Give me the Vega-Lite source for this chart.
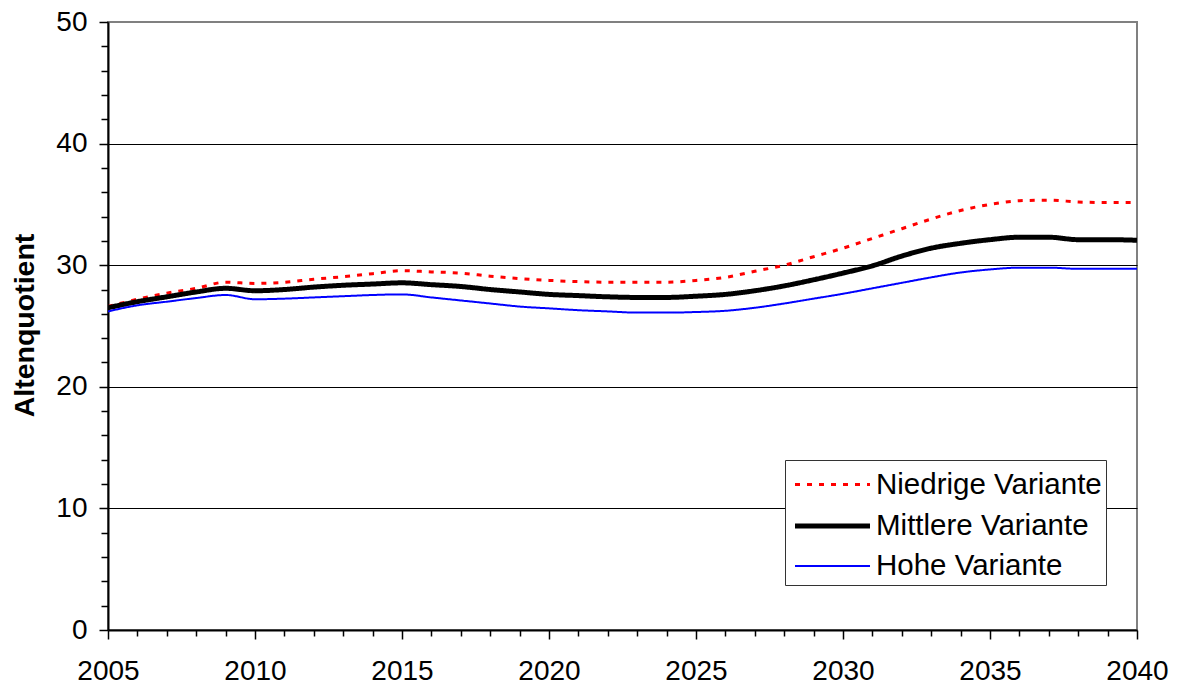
{
  "$schema": "https://vega.github.io/schema/vega-lite/v6.json",
  "autosize": "none",
  "width": 1029,
  "height": 608,
  "padding": {"left": 108, "top": 22, "right": 42, "bottom": 59},
  "background": "white",
  "config": {
    "font": "Liberation Sans",
    "view": {"stroke": "#808080", "strokeWidth": 2}
  },
  "data": {"values": [
    {"year":2005,"v":"Niedrige Variante","q":26.6},{"year":2006,"v":"Niedrige Variante","q":27.2},{"year":2007,"v":"Niedrige Variante","q":27.7},{"year":2008,"v":"Niedrige Variante","q":28.1},{"year":2009,"v":"Niedrige Variante","q":28.6},{"year":2010,"v":"Niedrige Variante","q":28.5},{"year":2011,"v":"Niedrige Variante","q":28.6},{"year":2012,"v":"Niedrige Variante","q":28.85},{"year":2013,"v":"Niedrige Variante","q":29.05},{"year":2014,"v":"Niedrige Variante","q":29.3},{"year":2015,"v":"Niedrige Variante","q":29.55},{"year":2016,"v":"Niedrige Variante","q":29.45},{"year":2017,"v":"Niedrige Variante","q":29.35},{"year":2018,"v":"Niedrige Variante","q":29.1},{"year":2019,"v":"Niedrige Variante","q":28.9},{"year":2020,"v":"Niedrige Variante","q":28.75},{"year":2021,"v":"Niedrige Variante","q":28.65},{"year":2022,"v":"Niedrige Variante","q":28.6},{"year":2023,"v":"Niedrige Variante","q":28.6},{"year":2024,"v":"Niedrige Variante","q":28.6},{"year":2025,"v":"Niedrige Variante","q":28.75},{"year":2026,"v":"Niedrige Variante","q":29.0},{"year":2027,"v":"Niedrige Variante","q":29.5},{"year":2028,"v":"Niedrige Variante","q":30.0},{"year":2029,"v":"Niedrige Variante","q":30.7},{"year":2030,"v":"Niedrige Variante","q":31.4},{"year":2031,"v":"Niedrige Variante","q":32.2},{"year":2032,"v":"Niedrige Variante","q":33.0},{"year":2033,"v":"Niedrige Variante","q":33.8},{"year":2034,"v":"Niedrige Variante","q":34.5},{"year":2035,"v":"Niedrige Variante","q":35.0},{"year":2036,"v":"Niedrige Variante","q":35.3},{"year":2037,"v":"Niedrige Variante","q":35.35},{"year":2038,"v":"Niedrige Variante","q":35.2},{"year":2039,"v":"Niedrige Variante","q":35.15},{"year":2040,"v":"Niedrige Variante","q":35.15},
    {"year":2005,"v":"Mittlere Variante","q":26.5},{"year":2006,"v":"Mittlere Variante","q":27.0},{"year":2007,"v":"Mittlere Variante","q":27.4},{"year":2008,"v":"Mittlere Variante","q":27.8},{"year":2009,"v":"Mittlere Variante","q":28.1},{"year":2010,"v":"Mittlere Variante","q":27.9},{"year":2011,"v":"Mittlere Variante","q":28.0},{"year":2012,"v":"Mittlere Variante","q":28.2},{"year":2013,"v":"Mittlere Variante","q":28.35},{"year":2014,"v":"Mittlere Variante","q":28.45},{"year":2015,"v":"Mittlere Variante","q":28.55},{"year":2016,"v":"Mittlere Variante","q":28.4},{"year":2017,"v":"Mittlere Variante","q":28.25},{"year":2018,"v":"Mittlere Variante","q":28.0},{"year":2019,"v":"Mittlere Variante","q":27.8},{"year":2020,"v":"Mittlere Variante","q":27.6},{"year":2021,"v":"Mittlere Variante","q":27.5},{"year":2022,"v":"Mittlere Variante","q":27.4},{"year":2023,"v":"Mittlere Variante","q":27.35},{"year":2024,"v":"Mittlere Variante","q":27.35},{"year":2025,"v":"Mittlere Variante","q":27.45},{"year":2026,"v":"Mittlere Variante","q":27.6},{"year":2027,"v":"Mittlere Variante","q":27.9},{"year":2028,"v":"Mittlere Variante","q":28.3},{"year":2029,"v":"Mittlere Variante","q":28.8},{"year":2030,"v":"Mittlere Variante","q":29.35},{"year":2031,"v":"Mittlere Variante","q":29.95},{"year":2032,"v":"Mittlere Variante","q":30.75},{"year":2033,"v":"Mittlere Variante","q":31.4},{"year":2034,"v":"Mittlere Variante","q":31.8},{"year":2035,"v":"Mittlere Variante","q":32.1},{"year":2036,"v":"Mittlere Variante","q":32.3},{"year":2037,"v":"Mittlere Variante","q":32.3},{"year":2038,"v":"Mittlere Variante","q":32.1},{"year":2039,"v":"Mittlere Variante","q":32.1},{"year":2040,"v":"Mittlere Variante","q":32.05},
    {"year":2005,"v":"Hohe Variante","q":26.2},{"year":2006,"v":"Hohe Variante","q":26.7},{"year":2007,"v":"Hohe Variante","q":27.0},{"year":2008,"v":"Hohe Variante","q":27.3},{"year":2009,"v":"Hohe Variante","q":27.55},{"year":2010,"v":"Hohe Variante","q":27.2},{"year":2011,"v":"Hohe Variante","q":27.25},{"year":2012,"v":"Hohe Variante","q":27.35},{"year":2013,"v":"Hohe Variante","q":27.45},{"year":2014,"v":"Hohe Variante","q":27.55},{"year":2015,"v":"Hohe Variante","q":27.6},{"year":2016,"v":"Hohe Variante","q":27.35},{"year":2017,"v":"Hohe Variante","q":27.1},{"year":2018,"v":"Hohe Variante","q":26.85},{"year":2019,"v":"Hohe Variante","q":26.6},{"year":2020,"v":"Hohe Variante","q":26.45},{"year":2021,"v":"Hohe Variante","q":26.3},{"year":2022,"v":"Hohe Variante","q":26.2},{"year":2023,"v":"Hohe Variante","q":26.1},{"year":2024,"v":"Hohe Variante","q":26.1},{"year":2025,"v":"Hohe Variante","q":26.15},{"year":2026,"v":"Hohe Variante","q":26.25},{"year":2027,"v":"Hohe Variante","q":26.5},{"year":2028,"v":"Hohe Variante","q":26.85},{"year":2029,"v":"Hohe Variante","q":27.25},{"year":2030,"v":"Hohe Variante","q":27.65},{"year":2031,"v":"Hohe Variante","q":28.1},{"year":2032,"v":"Hohe Variante","q":28.55},{"year":2033,"v":"Hohe Variante","q":29.0},{"year":2034,"v":"Hohe Variante","q":29.4},{"year":2035,"v":"Hohe Variante","q":29.65},{"year":2036,"v":"Hohe Variante","q":29.8},{"year":2037,"v":"Hohe Variante","q":29.8},{"year":2038,"v":"Hohe Variante","q":29.7},{"year":2039,"v":"Hohe Variante","q":29.7},{"year":2040,"v":"Hohe Variante","q":29.7}
  ]},
  "mark": {"type": "line", "interpolate": "monotone", "clip": true},
  "encoding": {
    "x": {
      "field": "year", "type": "quantitative",
      "scale": {"domain": [2005, 2040], "nice": false, "zero": false},
      "axis": {
        "title": null,
        "values": [2005,2006,2007,2008,2009,2010,2011,2012,2013,2014,2015,2016,2017,2018,2019,2020,2021,2022,2023,2024,2025,2026,2027,2028,2029,2030,2031,2032,2033,2034,2035,2036,2037,2038,2039,2040],
        "labelExpr": "datum.value % 5 === 0 ? datum.value : ''",
        "format": "d",
        "grid": false,
        "domainColor": "black", "domainWidth": 2,
        "tickColor": "black", "tickWidth": 1.5,
        "tickSize": {"condition": {"test": "datum.value % 5 === 0", "value": 9}, "value": 6},
        "labelFontSize": 28, "labelColor": "black", "labelPadding": 18,
        "labelFlush": false, "labelOverlap": false
      }
    },
    "y": {
      "field": "q", "type": "quantitative",
      "scale": {"domain": [0, 50], "nice": false},
      "axis": {
        "title": "Altenquotient",
        "titleFontSize": 28.5, "titleFontWeight": "bold", "titleColor": "black",
        "titleX": -84, "titleY": 303, "titleBaseline": "middle", "titleAngle": -90, "titleAlign": "center",
        "values": [0,2,4,6,8,10,12,14,16,18,20,22,24,26,28,30,32,34,36,38,40,42,44,46,48,50],
        "labelExpr": "datum.value % 10 === 0 ? datum.value : ''",
        "grid": true,
        "gridColor": "black", "gridWidth": 1,
        "gridOpacity": {"condition": {"test": "datum.value % 10 === 0 && datum.value > 0 && datum.value < 50", "value": 1}, "value": 0},
        "domainColor": "black", "domainWidth": 2,
        "tickColor": "black", "tickWidth": 1.5,
        "tickSize": {"condition": {"test": "datum.value % 10 === 0", "value": 9}, "value": 7},
        "labelFontSize": 28, "labelColor": "black", "labelPadding": 12,
        "labelOverlap": false
      }
    },
    "color": {
      "field": "v", "type": "nominal",
      "scale": {"domain": ["Niedrige Variante", "Mittlere Variante", "Hohe Variante"], "range": ["#FF0000", "#000000", "#0000FF"]},
      "legend": {
        "title": null,
        "orient": "none", "legendX": 677, "legendY": 438,
        "strokeColor": "#333333", "fillColor": "white",
        "padding": 4,
        "symbolType": "M-2,0L2,0", "symbolSize": 1406, "symbolOffset": 22,
        "labelFontSize": 29.5, "labelColor": "black", "labelOffset": 22,
        "rowPadding": 5.5, "labelLimit": 400
      }
    },
    "strokeDash": {
      "field": "v", "type": "nominal",
      "scale": {"domain": ["Niedrige Variante", "Mittlere Variante", "Hohe Variante"], "range": [[5, 7], [1, 0], [1, 0]]},
      "legend": null
    },
    "strokeWidth": {
      "field": "v", "type": "nominal",
      "scale": {"type": "ordinal", "domain": ["Niedrige Variante", "Mittlere Variante", "Hohe Variante"], "range": [3, 5, 2]},
      "legend": null
    }
  }
}
